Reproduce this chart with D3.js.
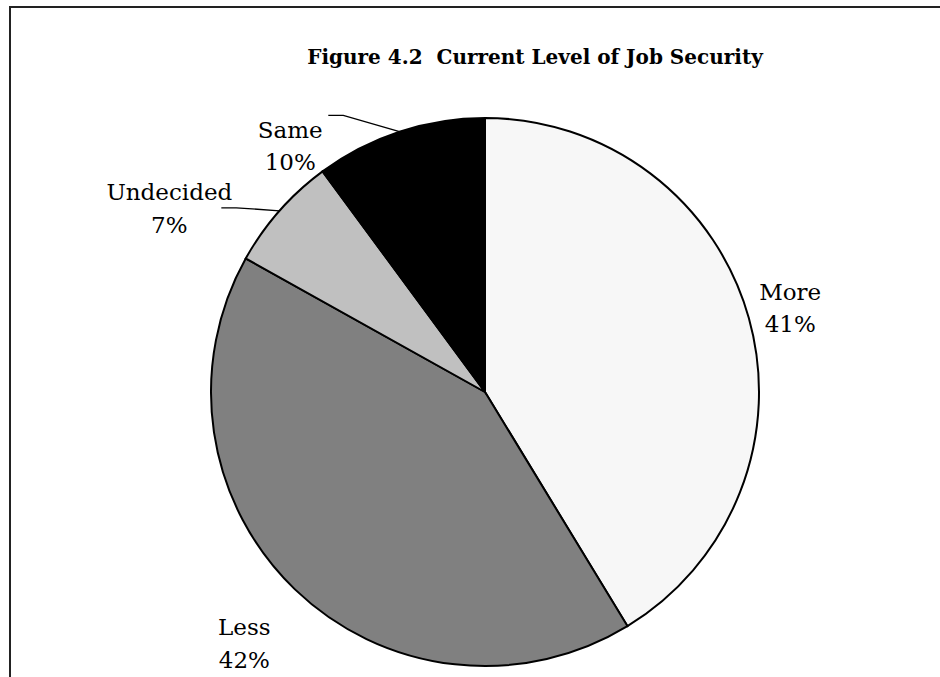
<!DOCTYPE html>
<html lang="en">
<head>
    <meta charset="UTF-8">
    <title>Figure 4.2 Current Level of Job Security</title>
    <script src="https://d3js.org/d3.v7.min.js"></script>
    <style>
        body { margin: 0; background: #fff; }
        svg { display: block; }
        text { font-family: "DejaVu Serif", "Liberation Serif", serif; fill: #000; }
        .title { font-weight: bold; font-size: 20px; }
        .label { font-size: 23px; }
        .slice { stroke: #000; stroke-width: 2px; }
        .leader { stroke: #000; stroke-width: 1.3px; fill: none; }
    </style>
</head>
<body>
    <svg id="chart" width="940" height="677"></svg>

    <script>
        // data
        const categories = ["More", "Less", "Undecided", "Same"];
        const shares = [41.3, 41.8, 6.8, 10.1];
        const sliceColors = ["#f7f7f7", "#808080", "#c0c0c0", "#000000"];

        const data = categories.map((c, i) => ({ name: c, value: shares[i], color: sliceColors[i] }));

        const svg = d3.select("#chart");
        const W = 940, H = 677;
        const cx = 485, cy = 392, radius = 274;

        // frame (runs off right and bottom)
        svg.append("rect")
            .attr("x", 10).attr("y", 7)
            .attr("width", W).attr("height", H)
            .attr("fill", "none").attr("stroke", "#222").attr("stroke-width", 2);

        svg.append("text").attr("class", "title")
            .attr("x", 535).attr("y", 64)
            .attr("text-anchor", "middle")
            .attr("xml:space", "preserve")
            .text("Figure 4.2  Current Level of Job Security");

        const pie = d3.pie().value(d => d.value).sort(null);
        const arc = d3.arc().innerRadius(0).outerRadius(radius);
        const arcs = pie(data);

        const g = svg.append("g").attr("transform", `translate(${cx},${cy})`);
        g.selectAll("path.slice").data(arcs).enter().append("path")
            .attr("class", "slice")
            .attr("d", arc)
            .attr("fill", d => d.data.color);

        // label placement: radius from centre, angle shift from slice mid angle (deg)
        const labelLayout = {
            "More":      { r: 317, shift: 0,   leader: false },
            "Less":      { r: 347, shift: 0,   leader: false },
            "Undecided": { r: 366, shift: -11, leader: true, side: 52, rise: -1 },
            "Same":      { r: 315, shift: -20, leader: true, side: 38, rise: 29 }
        };

        const polar = (a, r) => [r * Math.sin(a), -r * Math.cos(a)];

        arcs.forEach(d => {
            const lay = labelLayout[d.data.name];
            const mid = (d.startAngle + d.endAngle) / 2;
            const [lx, ly] = polar(mid + lay.shift * Math.PI / 180, lay.r);

            const t = g.append("text").attr("class", "label")
                .attr("text-anchor", "middle")
                .attr("x", lx).attr("y", ly);
            t.append("tspan").attr("x", lx).attr("dy", "-0.3em").text(d.data.name);
            t.append("tspan").attr("x", lx).attr("dy", "1.42em").text(Math.round(d.data.value) + "%");

            if (lay.leader) {
                const [ex, ey] = polar(mid, radius);
                const sx = lx + lay.side, sy = ly - lay.rise;
                g.append("polyline").attr("class", "leader")
                    .attr("points", [[sx, sy], [sx + 15, sy], [ex, ey]].map(p => p.join(",")).join(" "));
            }
        });
    </script>
</body>
</html>
